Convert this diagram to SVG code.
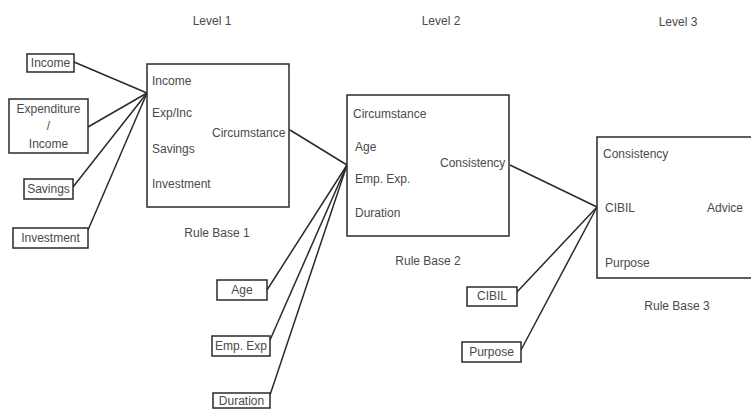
<svg xmlns="http://www.w3.org/2000/svg" width="751" height="410" viewBox="0 0 751 410">
<style>
text{font-family:"Liberation Sans",Arial,sans-serif;font-size:12px;fill:#4a4a4a}
.m{text-anchor:middle}
.box{fill:#fff;stroke:#2a2a2a;stroke-width:1.5}
.ib{fill:#fff;stroke:#2a2a2a;stroke-width:1.5}
.c line{stroke:#2a2a2a;stroke-width:1.5}
</style>
<rect width="751" height="410" fill="#fff"/>
<g id="levels">
<text class="m" x="212" y="25">Level 1</text>
<text class="m" x="441" y="25">Level 2</text>
<text class="m" x="678" y="26">Level 3</text>
</g>
<g class="c" id="connectors">
<line x1="74" y1="62" x2="147" y2="93"/>
<line x1="88" y1="127" x2="147" y2="93"/>
<line x1="73" y1="187" x2="147" y2="93"/>
<line x1="88" y1="230" x2="147" y2="93"/>
<line x1="290" y1="130" x2="347" y2="165"/>
<line x1="267" y1="290" x2="347" y2="165"/>
<line x1="270" y1="340" x2="347" y2="165"/>
<line x1="270" y1="395" x2="347" y2="165"/>
<line x1="510" y1="165" x2="597" y2="207"/>
<line x1="517" y1="292" x2="597" y2="207"/>
<line x1="521" y1="350" x2="597" y2="207"/>
</g>
<g id="in-income"><rect class="ib" x="27" y="54" width="47" height="18"/><text class="m" x="50.5" y="67">Income</text></g>
<g id="in-expinc"><rect class="ib" x="9" y="99" width="79" height="54"/><text class="m" x="48.5" y="113">Expenditure</text><text class="m" x="48.5" y="130">/</text><text class="m" x="48.5" y="148">Income</text></g>
<g id="in-savings"><rect class="ib" x="24" y="179" width="49" height="20"/><text class="m" x="48.5" y="193">Savings</text></g>
<g id="in-investment"><rect class="ib" x="13" y="228" width="75" height="20"/><text class="m" x="50.5" y="242">Investment</text></g>
<g id="rb1"><rect class="box" x="147" y="64" width="142" height="143"/>
<text x="152" y="85">Income</text><text x="152" y="117">Exp/Inc</text><text x="152" y="153">Savings</text><text x="152" y="188">Investment</text><text x="212" y="137">Circumstance</text>
<text class="m" x="217" y="237">Rule Base 1</text></g>
<g id="in-age"><rect class="ib" x="217" y="280" width="50" height="20"/><text class="m" x="242" y="294">Age</text></g>
<g id="in-empexp"><rect class="ib" x="212" y="336" width="58" height="20"/><text class="m" x="241" y="350">Emp. Exp</text></g>
<g id="in-duration"><rect class="ib" x="213" y="393" width="57" height="15"/><text class="m" x="241.5" y="405">Duration</text></g>
<g id="rb2"><rect class="box" x="347" y="95" width="162" height="141"/>
<text x="353" y="118">Circumstance</text><text x="355" y="151">Age</text><text x="355" y="183">Emp. Exp.</text><text x="355" y="217">Duration</text><text x="440" y="167">Consistency</text>
<text class="m" x="428" y="265">Rule Base 2</text></g>
<g id="in-cibil"><rect class="ib" x="467" y="287" width="50" height="19"/><text class="m" x="492" y="300">CIBIL</text></g>
<g id="in-purpose"><rect class="ib" x="462" y="342" width="59" height="20"/><text class="m" x="491.5" y="356">Purpose</text></g>
<g id="rb3"><rect class="box" x="597" y="137" width="155" height="141"/>
<text x="603" y="158">Consistency</text><text x="605" y="212">CIBIL</text><text x="707" y="212">Advice</text><text x="605" y="267">Purpose</text>
<text class="m" x="677" y="310">Rule Base 3</text></g>
</svg>
